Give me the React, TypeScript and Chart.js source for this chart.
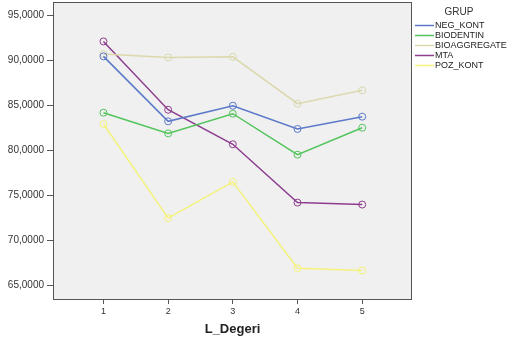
import React, { useEffect, useRef } from "react";
import { Chart, registerables } from "chart.js";

Chart.register(...registerables);

const categories = [1, 2, 3, 4, 5];
const seriesNames = ["NEG_KONT", "BIODENTIN", "BIOAGGREGATE", "MTA", "POZ_KONT"];
const negKont = [90.47, 83.24, 84.98, 82.39, 83.76];
const biodentin = [84.2, 81.9, 84.09, 79.53, 82.53];
const bioaggregate = [90.72, 90.35, 90.42, 85.2, 86.69];
const mta = [92.13, 84.53, 80.69, 74.2, 73.98];
const pozKont = [82.94, 72.47, 76.5, 66.9, 66.64];
const yTicks = [65, 70, 75, 80, 85, 90, 95];
const seriesColors = ["#5c79c9", "#52c45c", "#dcd8ae", "#8e3d8e", "#f5f27a"];

const allSeries = [negKont, biodentin, bioaggregate, mta, pozKont];

const bgPlugin = {
  id: "bgPlugin",
  beforeDraw(chart: any) {
    const { ctx, chartArea: a } = chart;
    ctx.save();
    ctx.fillStyle = "#ffffff";
    ctx.fillRect(0, 0, chart.width, chart.height);
    ctx.fillStyle = "#f0f0f0";
    ctx.fillRect(a.left, a.top, a.right - a.left, a.bottom - a.top);
    ctx.restore();
  },
  afterDraw(chart: any) {
    const { ctx, chartArea: a } = chart;
    ctx.save();
    ctx.strokeStyle = "#555555";
    ctx.lineWidth = 1;
    ctx.strokeRect(Math.round(a.left) + 0.5, Math.round(a.top) + 0.5, Math.round(a.right - a.left) - 1, Math.round(a.bottom - a.top) - 1);
    // legend
    ctx.fillStyle = "#333333";
    ctx.font = "10px 'Liberation Sans', Arial, sans-serif";
    ctx.textAlign = "center";
    ctx.textBaseline = "middle";
    ctx.fillText("GRUP", 459, 12);
    ctx.font = "9px 'Liberation Sans', Arial, sans-serif";
    ctx.textAlign = "left";
    chart.data.datasets.forEach((ds: any, i: number) => {
      const y = 25 + i * 10;
      ctx.strokeStyle = ds.borderColor;
      ctx.lineWidth = 1.5;
      ctx.beginPath();
      ctx.moveTo(415, y + 0.5);
      ctx.lineTo(434, y + 0.5);
      ctx.stroke();
      ctx.fillStyle = "#222222";
      ctx.fillText(ds.label, 435, y + 1);
    });
    ctx.restore();
  },
};

export default function App() {
  const ref = useRef<HTMLCanvasElement>(null);
  useEffect(() => {
    if (!ref.current) return;
    const chart = new Chart(ref.current, {
      type: "line",
      data: {
        datasets: seriesNames.map((name, i) => ({
          label: name,
          data: categories.map((c, j) => ({ x: c, y: allSeries[i][j] })),
          borderColor: seriesColors[i],
          backgroundColor: "rgba(0,0,0,0)",
          borderWidth: 1.5,
          pointRadius: 3.5,
          pointBorderWidth: 1,
          pointBackgroundColor: "rgba(0,0,0,0)",
          pointBorderColor: seriesColors[i],
          tension: 0,
        })),
      },
      options: {
        animation: false,
        responsive: false,
        layout: { autoPadding: false, padding: { top: 2, right: 99, left: 0, bottom: 0 } },
        plugins: { legend: { display: false }, tooltip: { enabled: false } },
        scales: {
          x: {
            type: "linear",
            min: 0.22,
            max: 5.77,
            afterBuildTicks: (s: any) => {
              s.ticks = categories.map((v) => ({ value: v }));
            },
            afterFit: (s: any) => {
              s.height = 41;
              s.paddingLeft = 0;
              s.paddingRight = 0;
              s.paddingTop = 0;
              s.paddingBottom = 0;
            },
            border: { display: false },
            grid: { drawOnChartArea: false, drawTicks: true, tickLength: 4, tickColor: "#555555" },
            ticks: {
              color: "#333333",
              padding: 2,
              font: { size: 9, family: "'Liberation Sans', Arial, sans-serif" },
              callback: (v: any) => String(v),
            },
            title: {
              display: true,
              text: "L_Degeri",
              color: "#222222",
              font: { size: 13, weight: "bold", family: "'Liberation Sans', Arial, sans-serif" },
              padding: { top: 0, bottom: 4 },
            },
          },
          y: {
            type: "linear",
            min: 63.36,
            max: 96.52,
            afterBuildTicks: (s: any) => {
              s.ticks = yTicks.map((v) => ({ value: v }));
            },
            afterFit: (s: any) => {
              s.width = 53;
              s.paddingTop = 0;
              s.paddingBottom = 0;
              s.paddingLeft = 0;
              s.paddingRight = 0;
            },
            border: { display: false },
            grid: { drawOnChartArea: false, drawTicks: true, tickLength: 6, tickColor: "#555555" },
            ticks: {
              color: "#333333",
              padding: 3,
              font: { size: 10, family: "'Liberation Sans', Arial, sans-serif" },
              callback: (v: any) => Number(v).toFixed(4).replace(".", ","),
            },
          },
        },
      },
      plugins: [bgPlugin],
    });
    return () => chart.destroy();
  }, []);
  return (
    <div style={{ position: "fixed", left: 0, top: 0, width: 511, height: 341 }}>
      <canvas ref={ref} width={511} height={341} style={{ width: 511, height: 341, display: "block" }} />
    </div>
  );
}
